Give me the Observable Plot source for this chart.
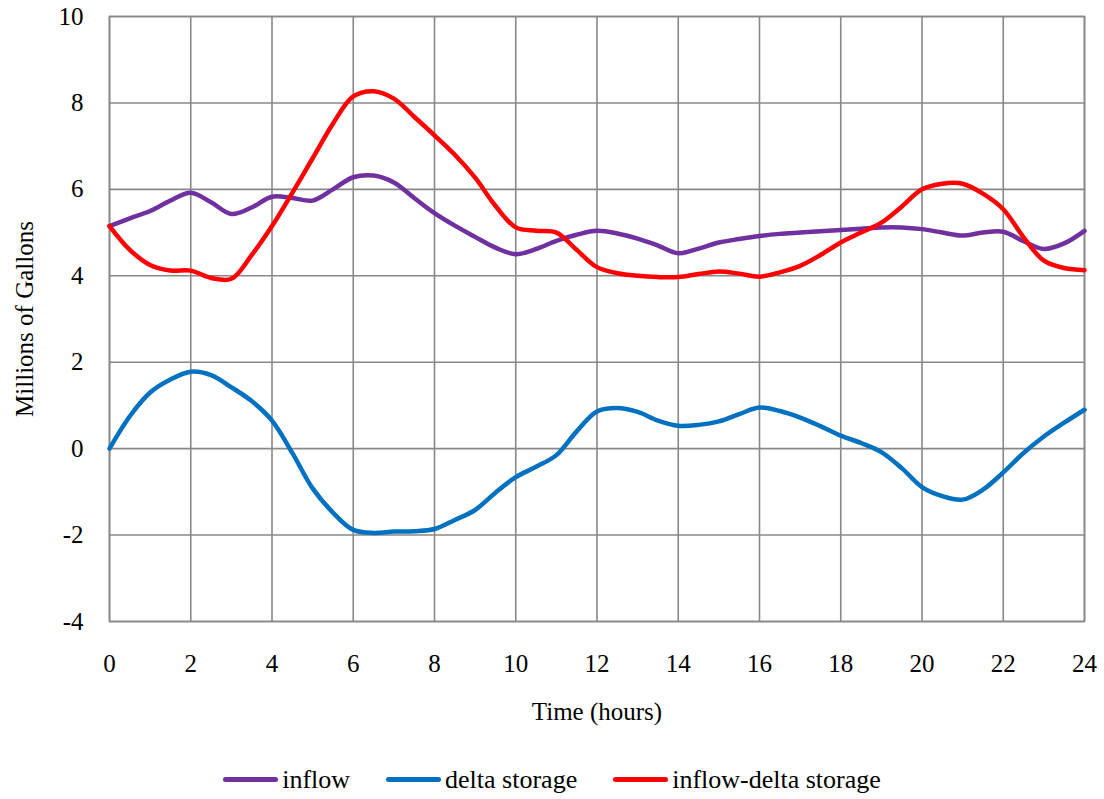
<!DOCTYPE html>
<html>
<head>
<meta charset="utf-8">
<script src="https://cdn.jsdelivr.net/npm/d3@7"></script>
<script src="https://cdn.jsdelivr.net/npm/@observablehq/plot@0.6"></script>
<style>
  html, body { margin: 0; padding: 0; background: #fff; }
  body { width: 1104px; height: 799px; overflow: hidden; font-family: "Liberation Serif", "Times New Roman", serif; }
  svg text { font-family: "Liberation Serif", "Times New Roman", serif; }
  #legend { display: flex; justify-content: center; align-items: center; gap: 36px; height: 39px; font-size: 26px; color: #000; }
  #legend .item { display: flex; align-items: center; gap: 4px; }
  #legend .sw { display: inline-block; width: 55px; height: 5px; border-radius: 3px; }
</style>
</head>
<body>
<div id="chart"></div>
<div id="legend"></div>
<script>
const hours = [0,0.5,1,1.5,2,2.5,3,3.5,4,4.5,5,5.5,6,6.5,7,7.5,8,8.5,9,9.5,10,10.5,11,11.5,12,12.5,13,13.5,14,14.5,15,15.5,16,16.5,17,17.5,18,18.5,19,19.5,20,20.5,21,21.5,22,22.5,23,23.5,24];

const inflow = [5.15,5.33,5.5,5.74,5.92,5.7,5.43,5.58,5.83,5.8,5.74,6.0,6.28,6.32,6.16,5.8,5.45,5.16,4.9,4.65,4.5,4.62,4.81,4.95,5.04,4.98,4.86,4.7,4.52,4.63,4.77,4.85,4.92,4.97,5.0,5.03,5.06,5.09,5.12,5.12,5.08,5.0,4.93,5.0,5.02,4.8,4.62,4.75,5.04];

const deltaStorage = [0,0.75,1.3,1.6,1.78,1.7,1.42,1.1,0.65,-0.1,-0.92,-1.48,-1.88,-1.95,-1.92,-1.91,-1.86,-1.65,-1.42,-1.02,-0.66,-0.42,-0.15,0.4,0.86,0.94,0.85,0.65,0.53,0.55,0.63,0.8,0.95,0.87,0.72,0.52,0.3,0.13,-0.08,-0.45,-0.89,-1.1,-1.18,-0.95,-0.55,-0.1,0.28,0.6,0.9];

const inflowMinusDelta = [5.15,4.6,4.25,4.12,4.12,3.95,3.93,4.48,5.15,5.92,6.72,7.52,8.15,8.27,8.1,7.68,7.25,6.8,6.27,5.62,5.12,5.04,5.0,4.6,4.2,4.06,4.0,3.97,3.97,4.04,4.1,4.05,3.98,4.08,4.23,4.48,4.77,5.0,5.23,5.6,6.0,6.13,6.13,5.9,5.54,4.89,4.35,4.18,4.13];

const seriesNames = ["inflow", "delta storage", "inflow-delta storage"];
const seriesColors = ["#7030A0", "#0070C0", "#FF0000"];
const xTicks = [0,2,4,6,8,10,12,14,16,18,20,22,24];
const yTicks = [-4,-2,0,2,4,6,8,10];

const seriesValues = [inflow, deltaStorage, inflowMinusDelta];
const rows = [];
seriesNames.forEach((name, si) => {
  hours.forEach((h, i) => rows.push({hour: h, value: seriesValues[si][i], series: name}));
});

const font = '"Liberation Serif", "Times New Roman", serif';

const chart = Plot.plot({
  width: 1104,
  height: 760,
  marginLeft: 109,
  marginRight: 20,
  marginTop: 16,
  marginBottom: 139,
  style: { fontFamily: font, fontSize: "25px", color: "#000", background: "#fff", overflow: "visible" },
  x: { domain: [0, 24] },
  y: { domain: [-4, 10] },
  color: { domain: seriesNames, range: seriesColors },
  marks: [
    Plot.gridX(xTicks, { stroke: "#888", strokeOpacity: 1, strokeWidth: 1.6 }),
    Plot.gridY(yTicks, { stroke: "#888", strokeOpacity: 1, strokeWidth: 1.6 }),
    Plot.frame({ stroke: "#888", strokeWidth: 1.6 }),
    Plot.axisX(xTicks, { tickSize: 0, tickPadding: 33, fontSize: 25, label: "Time (hours)", labelAnchor: "center", labelArrow: "none", labelOffset: 98, tickFormat: d => String(d) }),
    Plot.axisY(yTicks, { tickSize: 0, tickPadding: 26, fontSize: 25, label: "Millions of Gallons", labelAnchor: "center", labelOffset: 94, labelArrow: "none", tickFormat: d => d < 0 ? "-" + Math.abs(d) : String(d) }),
    Plot.line(rows, { x: "hour", y: "value", z: "series", stroke: "series", strokeWidth: 4.5, curve: "catmull-rom" })
  ]
});
document.getElementById("chart").appendChild(chart);

const legend = document.getElementById("legend");
seriesNames.forEach((name, i) => {
  const item = document.createElement("div");
  item.className = "item";
  const sw = document.createElement("span");
  sw.className = "sw";
  sw.style.background = seriesColors[i];
  const label = document.createElement("span");
  label.textContent = name;
  item.appendChild(sw);
  item.appendChild(label);
  legend.appendChild(item);
});
</script>
</body>
</html>
